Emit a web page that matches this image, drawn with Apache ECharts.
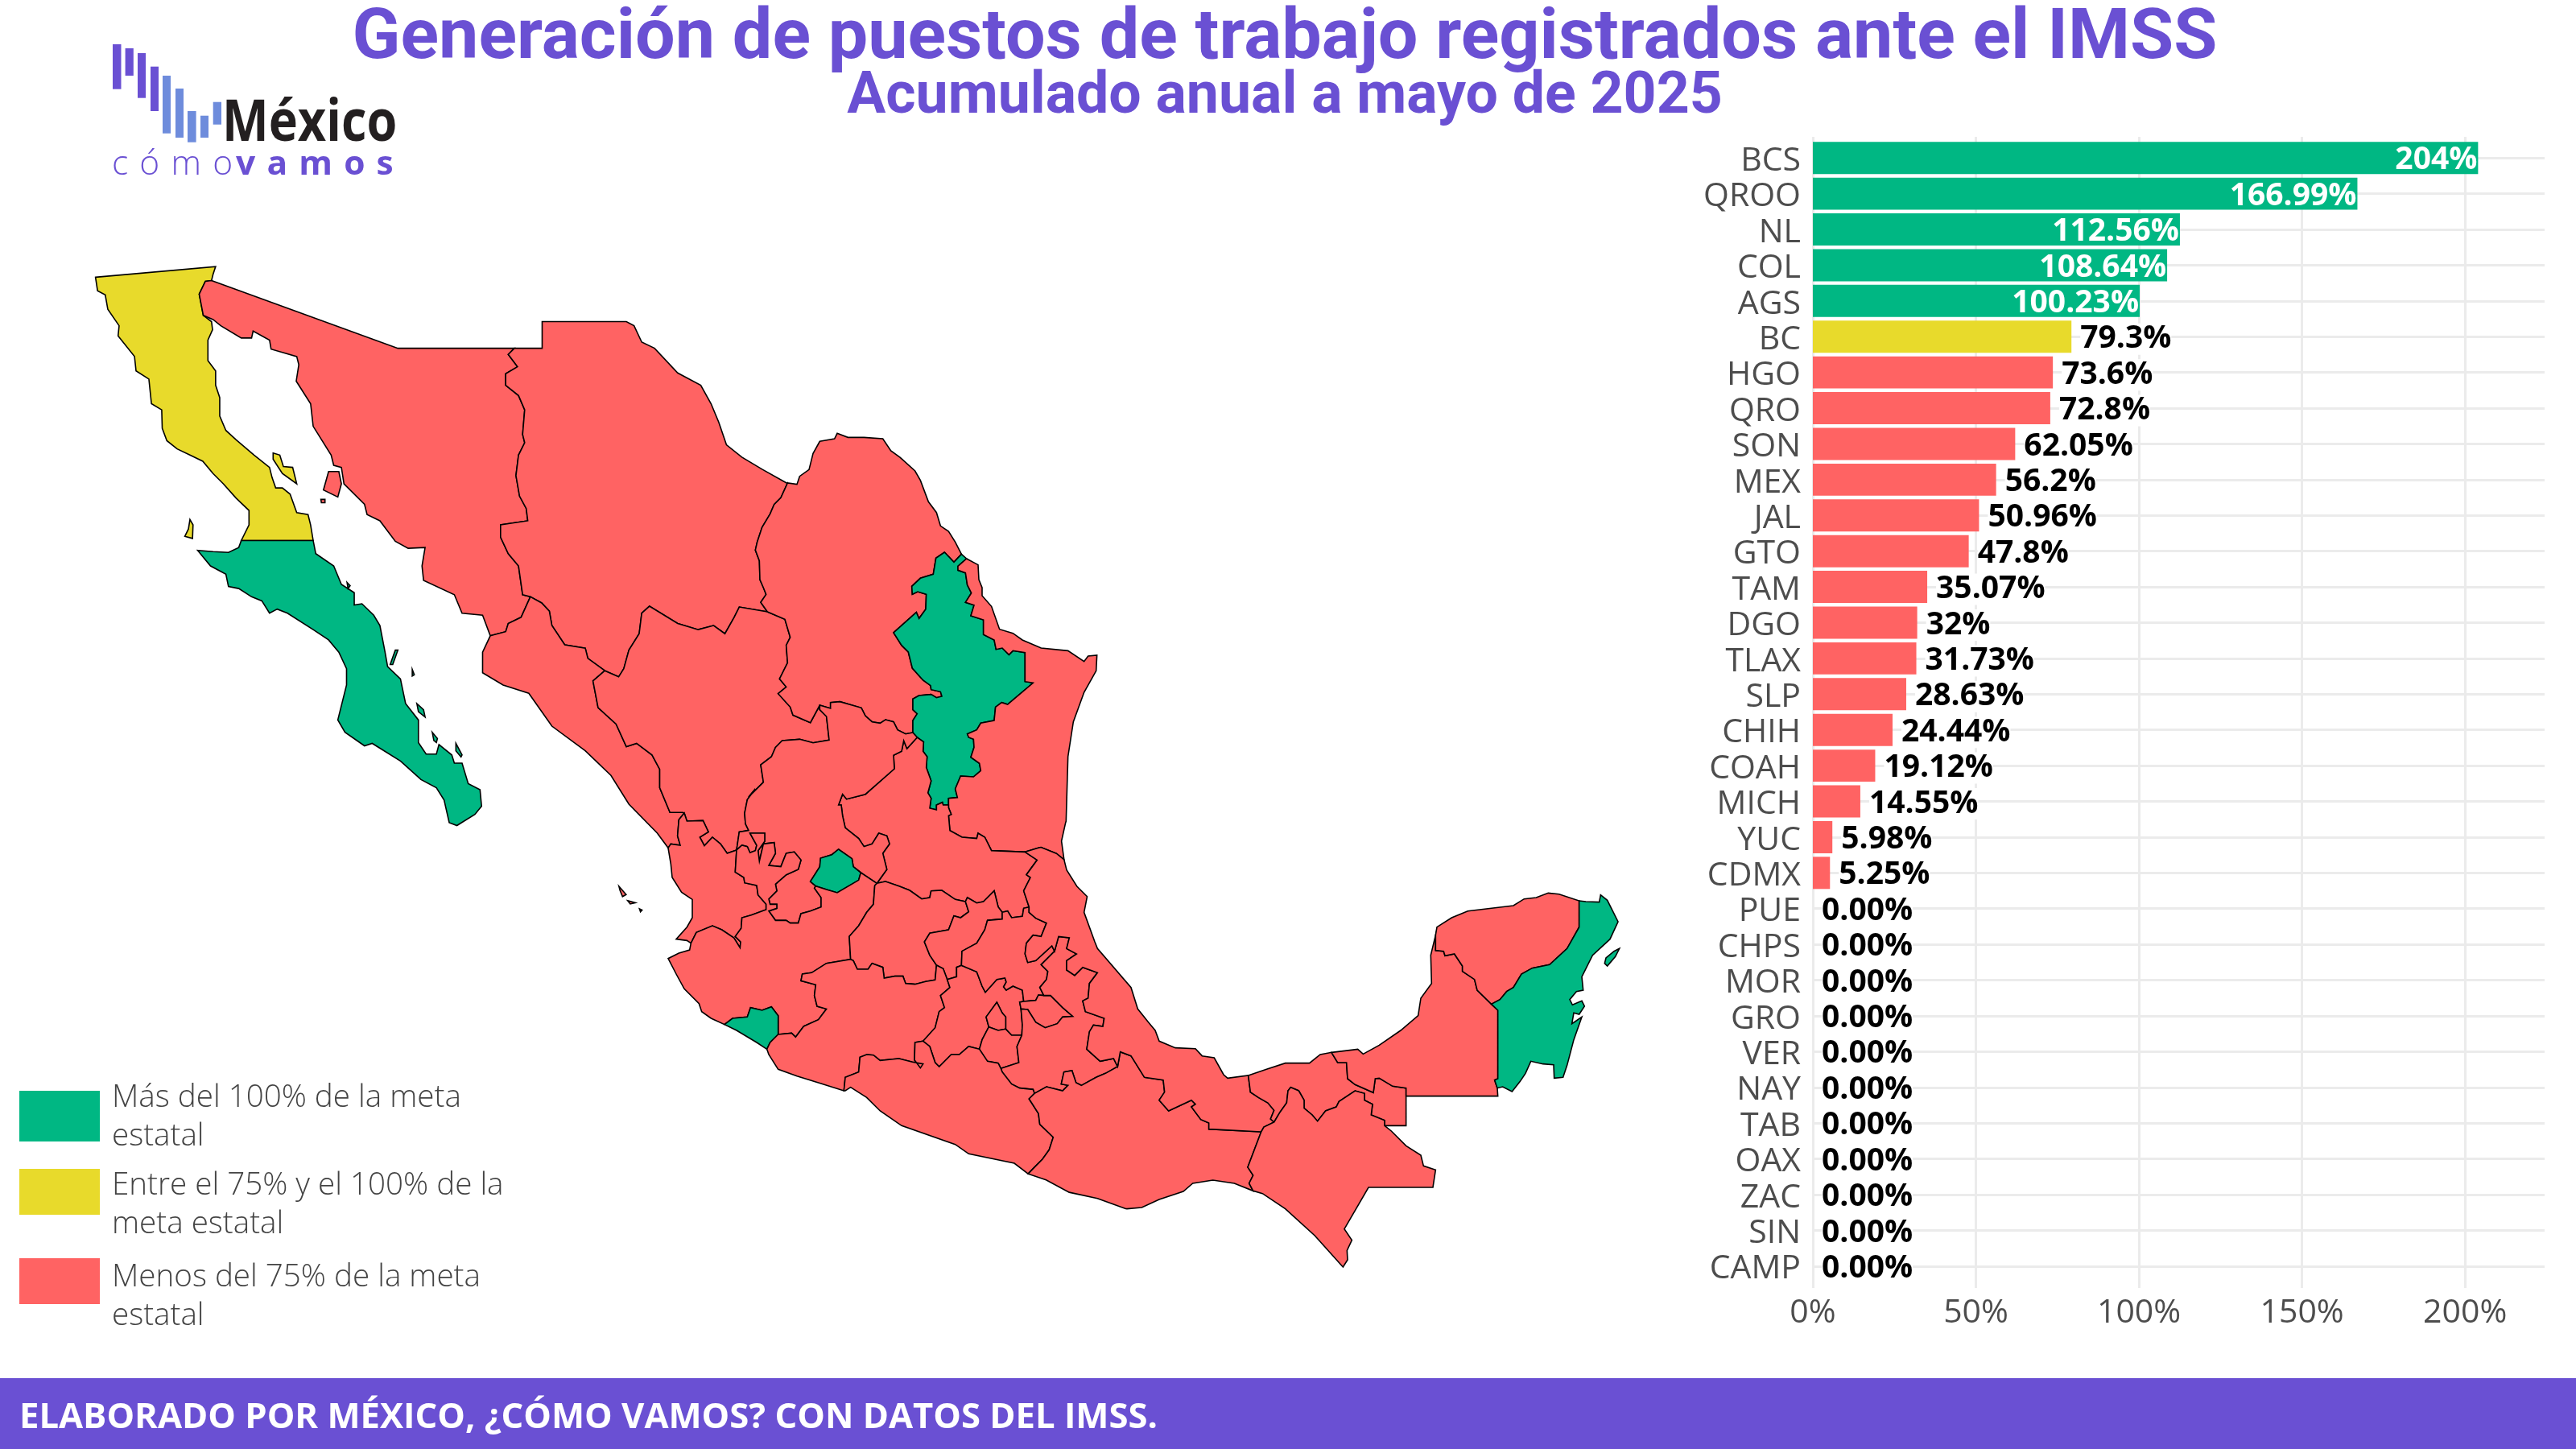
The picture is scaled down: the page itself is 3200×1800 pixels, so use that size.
<!DOCTYPE html>
<html>
<head>
<meta charset="utf-8">
<title>Generación de puestos de trabajo</title>
<script src="https://cdn.jsdelivr.net/npm/echarts@6/dist/echarts.min.js"></script>
<style>html,body{margin:0;padding:0;background:#fff}#main{width:3200px;height:1800px}</style>
</head>
<body>
<div id="main"></div>
<script>
// bar data, sorted as in the picture
const states = ['BCS','QROO','NL','COL','AGS','BC','HGO','QRO','SON','MEX','JAL','GTO','TAM','DGO','TLAX','SLP','CHIH','COAH','MICH','YUC','CDMX','PUE','CHPS','MOR','GRO','VER','NAY','TAB','OAX','ZAC','SIN','CAMP']
const values = [204,166.99,112.56,108.64,100.23,79.3,73.6,72.8,62.05,56.2,50.96,47.8,35.07,32,31.73,28.63,24.44,19.12,14.55,5.98,5.25,0,0,0,0,0,0,0,0,0,0,0]
const valueLabels = ['204%','166.99%','112.56%','108.64%','100.23%','79.3%','73.6%','72.8%','62.05%','56.2%','50.96%','47.8%','35.07%','32%','31.73%','28.63%','24.44%','19.12%','14.55%','5.98%','5.25%','0.00%','0.00%','0.00%','0.00%','0.00%','0.00%','0.00%','0.00%','0.00%','0.00%','0.00%']
const legendTexts = ['Más del 100% de la meta\nestatal','Entre el 75% y el 100% de la\nmeta estatal','Menos del 75% de la meta\nestatal']

const GREEN = '#00B783', YELLOW = '#E8DA2B', RED = '#FF6363', PURPLE = '#6A50D3', LOGOBLUE = '#6E8CDC'
const tierColor = v => v >= 100 ? GREEN : (v >= 75 ? YELLOW : RED)

const crop = (ox, oy, sx, sy) => pts => pts.map(p => [ox + p[0] / sx, oy + p[1] / sy])
const inA = crop(0, 300, 1.568, 1.96), inB = crop(700, 800, 1.568, 1.96)
const inC = crop(1000, 1100, 3, 3), inD = crop(1650, 1050, 3, 3)
const inE = crop(930, 520, 3, 3), inF = crop(800, 980, 3, 3), inG = crop(1400, 1260, 3, 3)
const rev = s => s.slice().reverse()

// shared borders
const bcSon = inA([[412,95],[400,97],[388,128],[396,180]])
const sonNorth = inA([[412,95],[775,260],[1002,260]])
const sonCoast = inA([[412,95],[400,97],[388,128],[396,180],[415,190],[430,205],[470,235],[490,235],[493,218],[525,240],[528,262],[578,280],[582,300],[577,340],[605,395],[610,450],[645,520],[650,545],[665,550],[670,590],[710,640],[715,665],[740,680],[770,730],[795,747],[828,745],[822,790],[825,825],[885,860],[900,905],[940,910],[955,960]])
const sonChi = inA([[1002,260],[990,275],[1008,305],[985,322],[985,350],[1010,375],[1022,410],[1018,470],[1022,490],[1010,520],[1005,570],[1012,620],[1025,650],[1028,680],[975,690],[975,720],[990,760],[1010,790],[1018,860],[1033,865]])
const sonSin = inA([[1033,865],[1015,915],[990,930],[985,950],[955,960]])
const chiNorth = inA([[1002,260],[1056,260],[1056,195],[1220,195],[1235,205],[1250,245],[1275,260],[1320,320],[1365,350],[1385,395],[1400,440],[1415,495],[1445,525],[1485,555],[1535,590]])
const chiCoa = inE([[145,240],[120,295],[95,320],[80,355],[50,405],[32,460],[25,490],[40,530],[42,600],[55,630],[65,655],[45,685],[70,720]])
const chiDgo = inE([[70,720]]).concat(inA([[1440,890],[1430,915],[1412,955],[1390,935],[1360,945],[1320,930],[1265,888],[1250,905],[1245,955],[1225,995],[1215,1040],[1205,1060],[1178,1045]]))
const chiSin = inA([[1178,1045],[1145,1015],[1140,990],[1100,982],[1075,935],[1070,900],[1055,880],[1033,865]])
const sinCoast = inA([[955,960],[940,1000],[940,1050],[980,1080],[1030,1100],[1075,1180],[1140,1240],[1190,1300],[1225,1370],[1280,1440],[1300,1475]])
const sinDgo = inA([[1178,1045],[1155,1070],[1165,1135],[1200,1175],[1220,1230],[1240,1222],[1270,1250],[1285,1285],[1285,1330],[1305,1390],[1330,1390]])
const sinNay = inF([[150,90],[130,115],[125,175],[135,210],[100,205],[90,220]])
const nayCoast = inF([[90,220],[100,280],[105,330],[140,385],[180,412],[180,480],[160,515],[120,560],[160,565],[175,575]])
const nayDgo = inF([[345,228],[310,240],[285,205],[255,180],[225,212],[208,180],[240,160],[220,118],[160,120],[150,90]])
const nayJalN = inF([[345,228],[340,310],[372,330],[375,350],[420,360],[425,395],[455,430]])
const nayJalS = inF([[455,430],[455,450],[400,470],[365,480],[362,520],[340,550],[360,570],[358,592],[335,555],[290,525],[255,510],[195,535],[175,575]])
const jalCoast = inF([[175,575],[170,600],[130,612],[90,632],[120,690],[150,745],[205,800],[215,830],[250,855],[300,878]])
const colJal = inF([[300,878],[330,855],[385,850],[397,815],[440,825],[475,812],[500,845],[500,915]])
const colMich = inF([[500,915],[470,945],[458,970]])
const colCoast = inF([[300,878],[345,900],[420,945],[458,970]])
const jalMich = inF([[770,635],[680,650],[625,685],[590,690],[585,715],[640,730],[635,770],[645,810],[680,820],[650,860],[595,885],[565,925],[550,910],[500,915]])
const jalGto = inF([[770,635],[765,550],[800,510],[830,460],[855,430],[860,360],[868,352]])
const jalZac = inF([[868,352],[808,312]])
const agsJal = inF([[808,312],[800,340],[720,387],[680,375],[640,362]])
const agsZac = inF([[808,312],[780,290],[775,260],[725,225],[700,245],[658,258],[655,290],[620,345],[640,362]])
const zacLobe = inF([[640,362],[635,370],[660,405],[660,440],[620,455],[585,465],[575,500],[545,500],[530,490],[490,490],[465,455],[495,445],[495,430],[470,430],[465,410],[495,380],[490,355],[530,320],[575,300],[585,265],[560,235],[530,240],[510,290],[465,285],[490,240],[485,200],[445,205],[430,270],[425,230],[450,195],[450,165],[395,165],[420,210],[415,230],[395,238],[385,215],[365,210],[345,228]])
const dgoZac = inE([[265,1068],[265,1085],[290,1110],[300,1198],[240,1208],[190,1195],[125,1200],[100,1225],[85,1260],[45,1290],[55,1355],[0,1410]]).concat(inF([[415,0],[385,40],[375,90],[378,130],[390,155],[355,160],[345,228]]))
const coaDgo = inE([[70,720],[135,748],[155,815],[140,845],[145,910],[115,970],[140,1000],[110,1025],[155,1075],[165,1105],[230,1133],[265,1068]])
const coaZac = inE([[265,1068],[305,1080],[305,1058],[340,1055],[420,1078],[435,1108],[460,1130],[490,1135],[510,1122],[540,1130],[555,1160],[585,1175],[612,1170]])
const nlZac = inE([[612,1170],[628,1188]])
const nlCoa = inE([[612,1170],[612,1125],[628,1100],[612,1085],[612,1045],[635,1032],[680,1028],[700,1040],[720,1035],[715,1018],[680,1010],[678,995],[650,975],[610,930],[595,870],[570,845],[540,798],[625,722],[635,745],[660,710],[662,655],[630,645],[610,655],[608,625],[640,595],[688,580],[698,520],[730,498],[765,535],[793,505]])
const coaRiver = inE([[793,505],[770,460],[745,420],[715,400],[700,350],[670,310],[640,230],[620,195],[565,145],[530,120],[500,75],[430,70],[370,70],[330,55],[320,75],[265,85],[240,130],[225,190],[190,215],[180,245],[145,240]])
const nlSlp = inE([[628,1188],[652,1205],[650,1240],[665,1260],[662,1300],[680,1350],[668,1395],[680,1415],[675,1452],[700,1458],[700,1440],[722,1430],[725,1440],[745,1440]])
const nlTam = inE([[745,1440],[745,1415],[778,1412],[770,1380],[790,1332],[838,1335],[865,1312],[860,1285],[828,1262],[840,1225],[838,1195],[820,1188],[815,1175],[850,1160],[865,1135],[915,1125],[920,1075],[943,1058],[965,1065],[1060,985],[1030,980],[1030,872],[985,865],[970,880],[945,855],[922,860],[915,825],[875,805],[875,750],[828,735],[840,695],[808,685],[830,650],[815,620],[808,575],[780,565],[780,550],[812,522]])
const tamCoast = inE([[812,522],[855,545],[858,600],[870,630],[870,660],[905,700],[935,785],[985,800],[1020,825],[1090,855],[1190,865],[1250,905],[1265,885],[1298,882],[1295,940],[1250,1020],[1210,1130],[1190,1260],[1183,1500]]).concat(inB([[978,435],[970,480],[975,525]]))
const verTam = inB([[975,525],[960,510],[930,495]]).concat(inF([[1470,220],[1420,235]]))
const tamSlp = inF([[1420,235],[1295,230],[1270,180],[1245,165],[1240,185],[1185,180],[1140,155],[1135,100],[1145,95],[1135,70]]).concat(inE([[745,1440]]))
const zacSlp = inE([[628,1188],[590,1230],[578,1200],[570,1240],[540,1255],[543,1305],[435,1400],[365,1418],[350,1400],[335,1440]]).concat(inF([[735,60],[740,100],[750,145],[800,185],[820,215],[850,205],[875,165],[905,175],[915,205],[890,240],[905,300],[868,352]]))
const slpGto = inF([[868,352],[900,345],[950,362],[990,378],[1035,410],[1065,405],[1070,380],[1110,378],[1160,412],[1198,420]])
const slpQro = inC([[598,60],[605,45],[640,65],[665,60],[705,20],[720,80],[735,100]])
const gtoQro = inC([[598,60],[610,98],[580,120],[555,113],[535,165],[465,178],[445,210],[465,260],[490,297]])
const gtoMich = inC([[490,297]]).concat(inF([[1085,712],[1050,718],[1010,728],[975,725],[965,698],[935,698],[895,705],[890,665],[850,650],[835,672],[795,672],[780,640],[770,635]]))
const qroMich = inC([[490,297],[515,310],[530,350]])
const qroMex = inC([[530,350],[565,340],[565,305],[583,298]])
const hgoQro = inC([[583,298],[585,245],[640,215],[670,165],[680,130],[735,125],[735,100]])
const hgoSlp = inC([[735,100],[755,95],[770,120],[810,115],[815,85],[835,80]])
const slpVer = inC([[835,80]]).concat(inF([[1415,380],[1440,330],[1425,320],[1465,265],[1420,235]]))
const hgoVer = inC([[835,80],[835,100],[860,122],[900,140],[880,190],[850,185],[825,215],[820,255],[830,287],[860,280],[920,225],[930,245]])
const hgoPue = inC([[930,245],[880,295],[905,320],[900,350],[875,380],[890,410]])
const hgoTlax = inC([[890,410],[870,408],[860,428],[815,432]])
const hgoMex = inC([[815,432],[810,390],[775,375],[750,390],[740,378],[750,360],[745,345],[715,350],[672,398],[660,375],[640,322],[583,298]])
const tlaxMex = inC([[815,432],[800,435],[805,460]])
const tlaxPue = inC([[805,460],[830,462],[860,510],[895,530],[940,515],[960,490],[998,488],[960,455],[915,410],[890,410]])
const mexPue = inC([[805,460],[810,520],[808,558]])
const mexMor = inC([[808,558],[770,558],[748,535]])
const cdmxMex = inC([[748,535],[748,490],[735,475],[715,435],[675,490],[685,527]])
const cdmxMor = inC([[748,535],[720,540],[685,527]])
const mexMorW = inC([[685,527],[660,575],[650,610]])
const mexGro = inC([[650,610],[610,600],[575,630],[545,630],[500,675],[485,660],[465,600],[440,580]])
const mexMich = inC([[440,580],[485,530],[500,470],[520,455],[505,410],[540,380],[530,350]])
const michCoast = inF([[458,970],[465,990],[500,1045],[570,1070],[650,1095],[745,1125]])
const groMich = inF([[745,1125],[750,1075],[800,1055],[805,1000],[830,990],[855,992],[880,1012],[950,1005],[1000,1018],[1040,1025],[1030,1040],[1008,1010],[1010,945],[1040,940]])
const groMor = inC([[650,610],[680,655],[720,662],[730,682]])
const morPue = inC([[808,558],[790,600],[797,660],[730,682]])
const groPue = inC([[730,682],[735,695],[770,740],[800,755],[850,760],[855,775]])
const oaxPue = inC([[855,775],[900,750],[960,765],[980,745],[955,740],[965,695],[995,690],[1010,735],[1030,745],[1085,715],[1120,700],[1165,675]])
const puVer = inC([[930,245],[945,190],[985,195],[975,235],[1012,255],[975,280],[975,315],[1005,335],[1035,305],[1090,325],[1060,365],[1055,420],[1035,430],[1045,470],[1115,495],[1110,525],[1075,520],[1060,545],[1050,610],[1100,655],[1150,645],[1165,675]])
const groOax = inC([[855,775],[835,795],[870,850],[875,890],[925,938],[910,985],[885,1020],[860,1045]]).concat(inB([[905,1290]]))
const groCoast = inC([[150,765],[170,752],[230,790],[280,840],[360,895],[560,965],[610,1000],[780,1035]]).concat(inB([[905,1290]]))
const verOax = inC([[1165,675],[1175,620],[1215,635],[1265,715],[1335,725],[1340,770],[1320,800],[1355,840],[1440,800]]).concat(inG([[255,335],[240,345],[275,392],[305,405],[305,428],[500,438]]))
const oaxChis = inG([[500,438],[450,570],[470,600],[455,630],[470,658]])
const oaxCoast = inG([[470,658],[400,630],[320,618],[245,630],[210,660],[120,690],[55,720],[0,725]]).concat(inB([[1095,1375],[1040,1350],[985,1335],[940,1305],[905,1290]]))
const verCoast = inB([[975,525],[980,550],[1000,590],[1020,615]]).concat(inC([[1040,100],[1080,210],[1090,235],[1215,380],[1240,460],[1280,510],[1305,540],[1320,580],[1380,605],[1455,608]]), inG([[280,155],[325,162],[360,225],[375,238],[452,228]]))
const verTab = inG([[452,228],[460,290],[490,310],[525,330],[548,358],[535,390],[548,402]])
const verChis = inG([[548,402],[510,420],[500,438]])
const tabCoast = inG([[452,228],[520,205],[590,182],[680,182],[720,150],[762,142]])
const tabCamp = inG([[762,142],[785,180],[818,180],[822,240],[850,262],[918,292],[925,240],[940,238],[990,268],[1040,275]])
const tabChis = inG([[548,402],[570,365],[595,330],[600,285],[610,272],[640,285],[660,320],[660,350],[690,375],[710,398],[740,360],[780,345],[790,325],[850,285],[885,295],[885,320],[915,335],[910,375],[960,395],[960,415]])
const chisCoast = inG([[960,415],[985,435],[1040,490],[1095,525],[1105,565],[1150,580],[1140,645],[900,645],[810,800],[838,842],[820,880],[822,915],[805,942],[700,825],[590,725],[505,668],[470,658]])
const campCoast = inG([[762,142],[860,130],[880,148],[940,115],[1020,60]]).concat(inD([[335,635],[345,570],[385,515],[382,410],[400,335]]))
const campYuc = inD([[400,335],[400,392],[430,395],[435,412],[470,405],[500,450],[500,470],[545,500],[555,540],[608,592]])
const campQR = inD([[608,592],[632,615],[632,870],[620,875],[630,905]])
const yucCoast = inD([[400,335],[405,305],[460,270],[520,245],[690,225],[730,200],[775,195],[820,178],[860,182],[935,207]])
const yucQR = inD([[935,207],[935,305],[890,385],[825,445],[760,458],[720,480],[690,530],[665,545],[640,575],[608,592]])
const qrCoast = inD([[935,207],[960,210],[1010,212],[1015,185],[1040,205],[1060,245],[1080,285],[1050,350],[985,410],[945,490],[950,540],[925,545],[900,575],[910,595],[945,580],[955,600],[935,630],[915,625],[908,665],[945,640],[915,725],[890,820],[875,865],[842,868],[840,818],[800,815],[755,805],[735,850],[715,880],[685,918],[650,900],[630,905]])

// state -> polygons, first ring is the mainland, the rest are islands
const stateShapes = {
  BC: [
    [].concat(inA([[186,87],[420,61],[415,80]]), bcSon, inA([[412,195],[414,215],[405,240],[405,290],[420,315],[420,350],[428,380],[428,425],[440,460],[460,483],[495,520],[525,550],[530,575],[537,600],[550,600],[565,615],[578,660],[600,665],[605,690],[610,728],[470,728],[485,690],[485,655],[460,625],[435,590],[415,565],[395,535],[370,520],[345,505],[325,485],[316,455],[315,410],[295,395],[290,335],[265,315],[262,280],[230,230],[232,205],[210,165],[205,130],[190,120]])),
    inA([[532,515],[545,520],[552,548],[570,550],[578,590],[550,565],[532,530]]),
    inA([[370,677],[376,690],[375,723],[360,718],[367,700]])
  ],
  BCS: [
    inA([[470,728],[610,728],[615,760],[650,790],[665,835],[690,855],[690,885],[705,882],[728,910],[740,935],[750,1000],[755,1035],[780,1065],[790,1125],[815,1165],[815,1220],[830,1248],[850,1248],[855,1225],[880,1250],[885,1270],[900,1270],[912,1320],[935,1335],[938,1375],[925,1395],[890,1422],[875,1415],[865,1360],[850,1330],[820,1310],[780,1265],[725,1222],[710,1228],[672,1195],[658,1165],[675,1080],[675,1040],[660,1000],[640,970],[610,945],[560,905],[540,895],[525,905],[510,875],[490,865],[465,845],[445,840],[440,810],[410,790],[385,752],[415,755],[445,757],[465,745]]),
    inA([[770,995],[775,995],[765,1030],[760,1030]]),
    inA([[812,1125],[825,1140],[828,1158],[815,1145]]),
    inA([[842,1195],[852,1210],[850,1220],[845,1215]]),
    inA([[888,1222],[900,1250],[898,1255],[888,1240]]),
    inA([[803,1042],[807,1055],[803,1058]]),
    inA([[676,830],[682,838],[678,845]])
  ],
  SON: [
    [].concat(sonNorth, sonChi, sonSin, rev(sonCoast)),
    inA([[640,560],[660,560],[665,590],[658,622],[630,605]]),
    inA([[625,628],[633,628],[633,636],[626,636]])
  ],
  CHIH: [[].concat(chiNorth, chiCoa, chiDgo, chiSin, rev(sonChi))],
  SIN: [[].concat(rev(sonSin), rev(chiSin), sinDgo, sinNay, rev(sinCoast))],
  DGO: [[].concat(coaDgo, dgoZac, nayDgo, rev(sinDgo), rev(chiDgo))],
  COAH: [[].concat(chiCoa, coaDgo, coaZac, nlCoa, coaRiver)],
  NL: [[].concat(nlCoa, rev(nlTam), rev(nlSlp), rev(nlZac))],
  TAM: [[].concat(tamCoast, verTam, tamSlp, nlTam)],
  SLP: [[].concat(zacSlp, slpGto, slpQro, hgoSlp, slpVer, tamSlp, rev(nlSlp))],
  ZAC: [[].concat(zacSlp, jalZac, agsZac, zacLobe, rev(dgoZac), coaZac, nlZac)],
  AGS: [[].concat(agsZac, rev(agsJal))],
  NAY: [
    [].concat(sinNay, nayCoast, rev(nayJalS), rev(nayJalN), nayDgo),
    inB([[108,590],[122,610],[115,615],[110,600]]),
    inB([[125,625],[140,630],[130,633]]),
    inB([[148,645],[153,648],[150,652]])
  ],
  JAL: [[].concat(jalCoast, colJal, rev(jalMich), jalGto, jalZac, agsJal, zacLobe, nayJalN, nayJalS)],
  COL: [[].concat(colJal, colMich, rev(colCoast))],
  GTO: [[].concat(slpGto, gtoQro, gtoMich, jalGto)],
  QRO: [[].concat(gtoQro, qroMich, qroMex, hgoQro, rev(slpQro))],
  MICH: [[].concat(gtoMich, jalMich, colMich, michCoast, groMich, mexMich, rev(qroMich))],
  MEX: [[].concat(qroMex, rev(hgoMex), tlaxMex, mexPue, mexMor, cdmxMex, mexMorW, mexGro, mexMich)],
  CDMX: [[].concat(cdmxMex, rev(cdmxMor))],
  MOR: [[].concat(mexMor, cdmxMor, mexMorW, groMor, rev(morPue))],
  HGO: [[].concat(hgoQro, hgoSlp, hgoVer, hgoPue, hgoTlax, hgoMex)],
  TLAX: [[].concat(hgoTlax, tlaxMex, tlaxPue)],
  PUE: [[].concat(hgoPue, rev(tlaxPue), mexPue, morPue, groPue, oaxPue, rev(puVer))],
  GRO: [[].concat(groMich, rev(mexGro), groMor, groPue, groOax, rev(groCoast))],
  OAX: [[].concat(rev(groOax), oaxPue, verOax, oaxChis, oaxCoast)],
  VER: [[].concat(verCoast, verTab, verChis, rev(verOax), rev(puVer), rev(hgoVer), slpVer, rev(verTam))],
  TAB: [[].concat(tabCoast, tabCamp, inG([[1040,415]]), rev(tabChis), rev(verTab))],
  CHPS: [[].concat(tabChis, chisCoast, rev(oaxChis), rev(verChis))],
  CAMP: [[].concat(campCoast, campYuc, campQR, inD([[632,935],[290,935]]), rev(tabCamp))],
  YUC: [[].concat(yucCoast, yucQR, rev(campYuc))],
  QROO: [
    [].concat(qrCoast, rev(campQR), rev(yucQR)),
    inD([[1085,385],[1065,395],[1035,420],[1030,440],[1040,450],[1070,415]])
  ]
}

const closeRing = r => r.concat([r[0]])
const mexicoGeo = {
  type: 'FeatureCollection',
  features: Object.keys(stateShapes).map(name => ({
    type: 'Feature',
    properties: { name: name },
    geometry: { type: 'MultiPolygon', coordinates: stateShapes[name].map(r => [closeRing(r)]) }
  }))
}
echarts.registerMap('mexico', mexicoGeo)

// logo, x from, x to, y from, y to
const logoBars = [[140,150.5,55,110.7],[155.6,165.8,60,94],[171,181,66,121.7],[187,197,82.7,138],[202,212,94,165.7],[218,228,110,171],[233,243.6,138,176.7],[249,259,143.7,171],[264.7,275,126.7,154.7]]
const legendBoxes = [[24,1355,100,63],[24,1452,100,57],[24,1563,100,57]]
const legendColors = [GREEN, YELLOW, RED]
const legendTop = [1340, 1449, 1563]

const fontName = '"Open Sans", sans-serif'
const graphics = []
graphics.push({ type: 'rect', shape: { x: 0, y: 1712, width: 3200, height: 88 }, style: { fill: PURPLE } })
graphics.push({ type: 'text', x: 24, y: 1762, style: { text: 'ELABORADO POR MÉXICO, ¿CÓMO VAMOS? CON DATOS DEL IMSS.', fill: '#fff', font: 'bold 43.6px ' + fontName, textVerticalAlign: 'middle' } })
logoBars.forEach((b, i) => graphics.push({ type: 'rect', shape: { x: b[0], y: b[2], width: b[1] - b[0], height: b[3] - b[2] }, style: { fill: i < 4 ? PURPLE : LOGOBLUE } }))
graphics.push({ type: 'text', x: 276, y: 190, scaleX: 0.85, style: { text: 'México', fill: '#231F20', font: 'bold 72px ' + fontName, textVerticalAlign: 'bottom', lineHeight: 72 } })
graphics.push({ type: 'text', x: 139, y: 205, scaleX: 1.012, style: { text: '{a|c\u2004ó\u2004m\u2004o}\u2004{b|v\u2004a\u2004m\u2004o\u2004s}', verticalAlign: 'middle', rich: { a: { font: '300 42px ' + fontName, fill: PURPLE, color: PURPLE }, b: { font: 'bold 42px ' + fontName, fill: PURPLE, color: PURPLE } } } })
legendBoxes.forEach((b, i) => {
  graphics.push({ type: 'rect', shape: { x: b[0], y: b[1], width: b[2], height: b[3] }, style: { fill: legendColors[i] } })
  graphics.push({ type: 'text', x: 139, y: legendTop[i], style: { text: legendTexts[i], fill: '#444', font: '300 38.6px ' + fontName, lineHeight: 48 } })
})

const myChart = echarts.init(document.getElementById('main'), null, { renderer: 'canvas', width: 3200, height: 1800 })
const gridLine = { show: true, lineStyle: { color: '#ebebeb', width: 3 } }
const axisMax = 224.4

const option = {
  animation: false,
  backgroundColor: '#fff',
  title: [
    { text: 'Generación de puestos de trabajo registrados ante el IMSS', left: 1591, top: 1, textAlign: 'center', textStyle: { fontFamily: 'Roboto', fontWeight: 'bold', fontSize: 88, color: PURPLE } },
    { text: 'Acumulado anual a mayo de 2025', left: 1591, top: 81, textAlign: 'center', textStyle: { fontFamily: 'Roboto', fontWeight: 'bold', fontSize: 71.6, color: PURPLE } }
  ],
  graphic: graphics,
  // 0: vertical gridlines and x labels, 1: bars, 2: state names, a few px lower than the bars
  grid: [
    { left: 2252, top: 170, width: 909, height: 1430 },
    { left: 2252, top: 174, width: 909, height: 1421 },
    { left: 2252, top: 178, width: 909, height: 1421 }
  ],
  xAxis: [
    { type: 'value', gridIndex: 0, min: 0, max: axisMax, interval: 50, axisLine: { show: false }, axisTick: { show: false },
      splitLine: Object.assign({ showMaxLine: false }, gridLine),
      axisLabel: { formatter: '{value}%', fontFamily: 'Open Sans', fontSize: 41, color: '#4d4d4d', margin: 11, showMaxLabel: false } },
    { type: 'value', gridIndex: 1, min: 0, max: axisMax, show: false },
    { type: 'value', gridIndex: 2, min: 0, max: axisMax, show: false }
  ],
  yAxis: [
    { type: 'value', gridIndex: 0, min: 0, max: 1, show: false },
    { type: 'category', gridIndex: 1, data: states, inverse: true, axisLine: { show: false }, axisTick: { show: false },
      splitLine: Object.assign({ alignWithLabel: true }, gridLine),
      axisLabel: { show: false } },
    { type: 'category', gridIndex: 2, data: states, inverse: true, axisLine: { show: false }, axisTick: { show: false }, splitLine: { show: false },
      axisLabel: { interval: 0, fontFamily: 'Open Sans', fontSize: 41, color: '#4d4d4d', margin: 15 } }
  ],
  series: [
    {
      type: 'bar', xAxisIndex: 1, yAxisIndex: 1, barWidth: '90%',
      data: values.map(v => ({
        value: v,
        itemStyle: { color: tierColor(v) },
        label: v >= 100
          ? { position: 'insideRight', distance: 1, color: '#fff' }
          : { position: 'right', distance: 11, color: '#000', backgroundColor: '#fff' }
      })),
      label: { show: true, fontFamily: 'Open Sans', fontWeight: 'bold', fontSize: 39, offset: [0, 3], formatter: p => valueLabels[p.dataIndex] }
    },
    {
      type: 'map', map: 'mexico', roam: false, silent: true,
      left: 0, top: 0, width: 3200, height: 1800, aspectScale: 1,
      boundingCoords: [[0, 0], [3200, 1800]],
      projection: { project: p => p, unproject: p => p },
      label: { show: false },
      itemStyle: { borderColor: '#000', borderWidth: 1.6 },
      data: states.map((s, i) => ({ name: s, value: values[i], itemStyle: { areaColor: tierColor(values[i]) } }))
    }
  ]
}
myChart.setOption(option)
</script>
</body>
</html>
